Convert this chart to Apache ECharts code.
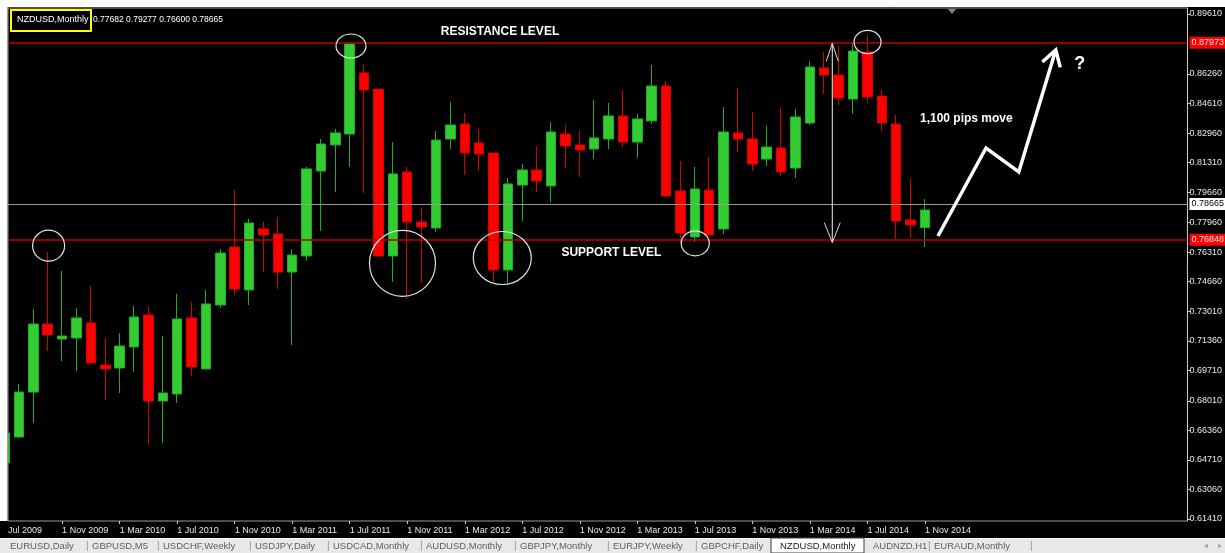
<!DOCTYPE html>
<html>
<head>
<meta charset="utf-8">
<script src="https://cdn.jsdelivr.net/npm/echarts@6/dist/echarts.min.js"></script>
<style>
  html, body { margin: 0; padding: 0; background: #000; }
  #main { width: 1225px; height: 553px; }
</style>
</head>
<body>
<div id="main"></div>
<script>
// NZDUSD monthly bars, Jul 2009 .. Nov 2014
var months = [
  'Jul 2009','Aug 2009','Sep 2009','Oct 2009','Nov 2009','Dec 2009',
  'Jan 2010','Feb 2010','Mar 2010','Apr 2010','May 2010','Jun 2010','Jul 2010','Aug 2010','Sep 2010','Oct 2010','Nov 2010','Dec 2010',
  'Jan 2011','Feb 2011','Mar 2011','Apr 2011','May 2011','Jun 2011','Jul 2011','Aug 2011','Sep 2011','Oct 2011','Nov 2011','Dec 2011',
  'Jan 2012','Feb 2012','Mar 2012','Apr 2012','May 2012','Jun 2012','Jul 2012','Aug 2012','Sep 2012','Oct 2012','Nov 2012','Dec 2012',
  'Jan 2013','Feb 2013','Mar 2013','Apr 2013','May 2013','Jun 2013','Jul 2013','Aug 2013','Sep 2013','Oct 2013','Nov 2013','Dec 2013',
  'Jan 2014','Feb 2014','Mar 2014','Apr 2014','May 2014','Jun 2014','Jul 2014','Aug 2014','Sep 2014','Oct 2014','Nov 2014'
];
var opens = [
  0.6454, 0.6599, 0.6850, 0.7230, 0.7146, 0.7152, 0.7236, 0.7001, 0.6984, 0.7102,
  0.7280, 0.6800, 0.6839, 0.7264, 0.6979, 0.7336, 0.7660, 0.7420, 0.7761, 0.7733,
  0.7520, 0.7610, 0.8084, 0.8230, 0.8291, 0.8632, 0.8542, 0.7610, 0.8079, 0.7800,
  0.7766, 0.8263, 0.8347, 0.8241, 0.8185, 0.7532, 0.8006, 0.8090, 0.8001, 0.8291,
  0.8230, 0.8207, 0.8263, 0.8392, 0.8246, 0.8364, 0.8559, 0.7973, 0.7716, 0.7978,
  0.7761, 0.8297, 0.8263, 0.8151, 0.8213, 0.8101, 0.8352, 0.8660, 0.8620, 0.8486,
  0.8749, 0.8503, 0.8347, 0.7811, 0.77682
];
var highs = [
  0.6649, 0.6895, 0.7314, 0.7632, 0.7526, 0.7319, 0.7442, 0.7152, 0.7180, 0.7331,
  0.7325, 0.7163, 0.7398, 0.7353, 0.7420, 0.7649, 0.7978, 0.7816, 0.7800, 0.7828,
  0.7649, 0.8107, 0.8263, 0.8319, 0.8799, 0.8682, 0.8542, 0.8246, 0.8107, 0.7883,
  0.8308, 0.8470, 0.8408, 0.8319, 0.8185, 0.8045, 0.8123, 0.8224, 0.8358, 0.8341,
  0.8308, 0.8481, 0.8464, 0.8537, 0.8403, 0.8676, 0.8587, 0.8140, 0.8107, 0.8163,
  0.8442, 0.8548, 0.8414, 0.8336, 0.8436, 0.8431, 0.8699, 0.8749, 0.8782, 0.8799,
  0.8838, 0.8537, 0.8397, 0.8040, 0.79277
];
var lows = [
  0.6437, 0.6593, 0.6677, 0.7079, 0.7023, 0.6968, 0.7007, 0.6806, 0.6845, 0.6962,
  0.6560, 0.6566, 0.6789, 0.6940, 0.6979, 0.7319, 0.7392, 0.7336, 0.7520, 0.7425,
  0.7113, 0.7582, 0.7749, 0.7967, 0.8107, 0.7962, 0.7604, 0.7465, 0.7370, 0.7459,
  0.7744, 0.8207, 0.8062, 0.8084, 0.7459, 0.7459, 0.7805, 0.7967, 0.7911, 0.8101,
  0.8051, 0.8151, 0.8207, 0.8218, 0.8157, 0.8347, 0.7939, 0.7682, 0.7688, 0.7727,
  0.7733, 0.8190, 0.8084, 0.8112, 0.8056, 0.8045, 0.8341, 0.8514, 0.8453, 0.8403,
  0.8464, 0.8308, 0.7705, 0.7710, 0.76600
];
var closes = [
  0.6621, 0.6850, 0.7230, 0.7169, 0.7163, 0.7264, 0.7012, 0.6979, 0.7107, 0.7269,
  0.6800, 0.6845, 0.7258, 0.6990, 0.7342, 0.7626, 0.7425, 0.7794, 0.7727, 0.7520,
  0.7615, 0.8096, 0.8235, 0.8297, 0.8794, 0.8537, 0.7610, 0.8068, 0.7800, 0.7772,
  0.8257, 0.8341, 0.8185, 0.8179, 0.7532, 0.8012, 0.8090, 0.8029, 0.8302, 0.8224,
  0.8202, 0.8269, 0.8392, 0.8246, 0.8375, 0.8559, 0.7945, 0.7738, 0.7984, 0.7727,
  0.8302, 0.8263, 0.8123, 0.8218, 0.8079, 0.8386, 0.8665, 0.8620, 0.8492, 0.8754,
  0.8498, 0.8352, 0.7805, 0.7783, 0.78665
];

var dateTicks = ['Jul 2009','1 Nov 2009','1 Mar 2010','1 Jul 2010','1 Nov 2010','1 Mar 2011','1 Jul 2011',
  '1 Nov 2011','1 Mar 2012','1 Jul 2012','1 Nov 2012','1 Mar 2013','1 Jul 2013','1 Nov 2013',
  '1 Mar 2014','1 Jul 2014','1 Nov 2014'];
var priceTicks = [0.8961, 0.8626, 0.8461, 0.8296, 0.8131, 0.7966, 0.7796, 0.7631, 0.7466,
  0.7301, 0.7136, 0.6971, 0.6801, 0.6636, 0.6471, 0.6306, 0.6141];

var resistance = 0.87973;
var support = 0.76848;
var lastPrice = 0.78665;
var header = 'NZDUSD,Monthly';
var ohlcText = '0.77682 0.79277 0.76600 0.78665';

var tabs = ['EURUSD,Daily','GBPUSD,M5','USDCHF,Weekly','USDJPY,Daily','USDCAD,Monthly','AUDUSD,Monthly',
  'GBPJPY,Monthly','EURJPY,Weekly','GBPCHF,Daily','NZDUSD,Monthly','AUDNZD,H1','EURAUD,Monthly'];
var activeTab = 'NZDUSD,Monthly';

// hand drawn annotations, in chart coordinates [bar index, price]
var circles = [
  [3.06, 0.76672, 16, 15.5], [24.09, 0.87823, 15, 12], [27.67, 0.75689, 33, 33],
  [34.61, 0.75985, 29, 26.5], [48.03, 0.76806, 14, 12.5], [60.01, 0.88046, 13.5, 11.7]
];
var moveBar = 57.56;
var zigzag = [[64.91, 0.77213], [68.25, 0.82127], [70.53, 0.80787], [73.10, 0.87600]];
var notes = [
  ['RESISTANCE LEVEL', 34.45, 0.88605, 'center', 12],
  ['SUPPORT LEVEL', 42.2, 0.76269, 'center', 12],
  ['1,100 pips move', 63.66, 0.83747, 'left', 12],
  ['?', 74.77, 0.86818, 'center', 18]
];

var xMin = 0.236, xMax = 82.26;
var tickIdx = dateTicks.map(function (t) { return months.indexOf(t.replace(/^1 /, '')); });
// first month sits half outside the window, its label is pinned to the left edge
var labelVals = tickIdx.map(function (v) { return Math.max(v, xMin); });
var candleData = months.map(function (m, i) {
  return [i, opens[i], closes[i], lows[i], highs[i]];
});

var chart = echarts.init(document.getElementById('main'));
var font = 'Liberation Sans, Arial, sans-serif';

function priceBox(v, bg, fg) {
  return {
    show: true, position: 'end', distance: 2,
    formatter: v.toFixed(5), color: fg, backgroundColor: bg,
    fontSize: 9, fontFamily: font, padding: [1, 2, 1, 2], lineHeight: 10
  };
}

chart.setOption({
  backgroundColor: '#000',
  animation: false,
  grid: { left: 8, right: 35, top: 8, bottom: 32, show: true, borderColor: '#9a9a9a', borderWidth: 1, backgroundColor: '#000' },
  xAxis: {
    type: 'value', min: xMin, max: xMax,
    axisLine: { show: false, onZero: false }, splitLine: { show: false },
    axisTick: { show: true, customValues: tickIdx.filter(function (v) { return v >= xMin; }), length: 3, lineStyle: { color: '#c8c8c8' } },
    axisLabel: {
      customValues: labelVals, align: 'left', margin: 5, color: '#e8e8e8', fontSize: 9, fontFamily: font,
      showMinLabel: true,
      formatter: function (v) {
        var k = labelVals.findIndex(function (u) { return Math.abs(u - v) < 0.01; });
        return k >= 0 ? dateTicks[k] : '';
      }
    }
  },
  yAxis: {
    type: 'value', position: 'right', min: 0.61299, max: 0.89945,
    axisLine: { show: true, onZero: false, lineStyle: { color: '#c8c8c8' } },
    splitLine: { show: false },
    axisTick: { show: true, customValues: priceTicks, length: 3, lineStyle: { color: '#c8c8c8' } },
    axisLabel: {
      customValues: priceTicks, margin: 2, color: '#e8e8e8', fontSize: 9, fontFamily: font,
      formatter: function (v) { return v.toFixed(5); }
    }
  },
  series: [{
    type: 'candlestick',
    data: candleData,
    encode: { x: 0, y: [1, 2, 3, 4] },
    barWidth: 10,
    clip: true,
    itemStyle: { color: '#33cc33', color0: '#ff0000', borderColor: '#1fae1f', borderColor0: '#d40000', borderWidth: 1 },
    markLine: {
      silent: true, symbol: ['none', 'none'], animation: false,
      data: [
        { yAxis: resistance, lineStyle: { color: '#c00000', width: 1.5, type: 'solid' }, label: priceBox(resistance, '#ff0000', '#ffe6e6') },
        { yAxis: support, lineStyle: { color: '#c00000', width: 1.5, type: 'solid' }, label: priceBox(support, '#ff0000', '#ffe6e6') },
        { yAxis: lastPrice, lineStyle: { color: '#9a9a9a', width: 1, type: 'solid' }, label: priceBox(lastPrice, '#ffffff', '#000000') }
      ]
    }
  }]
});

function px(p) { return chart.convertToPixel({ gridIndex: 0 }, p); }

var g = [];
// window chrome (kept above the series so the first bar is cut at the window edge)
g.push({ type: 'rect', z: 100, shape: { x: 0, y: 0, width: 1225, height: 7 }, style: { fill: '#fff' }, silent: true });
g.push({ type: 'rect', z: 100, shape: { x: 0, y: 0, width: 7, height: 521 }, style: { fill: '#fff' }, silent: true });
g.push({ type: 'line', z: 100, shape: { x1: 7.5, y1: 7, x2: 7.5, y2: 521 }, style: { stroke: '#9a9a9a', lineWidth: 1 }, silent: true });
g.push({ type: 'polygon', z: 100, shape: { points: [[948, 9], [956, 9], [952, 14]] }, style: { fill: '#808080' }, silent: true });
g.push({ type: 'text', z: 100, x: 17, y: 20, style: { text: header, fill: '#fff', font: '9px ' + font, verticalAlign: 'middle' } });
g.push({ type: 'text', z: 100, x: 93, y: 20, style: { text: ohlcText, fill: '#fff', font: '8.5px ' + font, verticalAlign: 'middle' } });
g.push({ type: 'rect', z: 100, shape: { x: 11, y: 10, width: 80, height: 21 }, style: { fill: null, stroke: '#ffff00', lineWidth: 2 } });

// tab bar
g.push({ type: 'rect', z: 100, shape: { x: 0, y: 538, width: 1225, height: 15 }, style: { fill: '#e8e8e8' }, silent: true });
g.push({ type: 'line', z: 100, shape: { x1: 0, y1: 538.5, x2: 1225, y2: 538.5 }, style: { stroke: '#f8f8f8', lineWidth: 1 } });
var tabX = [10, 92, 163, 255, 333, 426, 520, 613, 701, 780, 873, 934];
tabs.forEach(function (t, i) {
  if (t === activeTab) {
    g.push({ type: 'rect', z: 100, shape: { x: tabX[i] - 9, y: 538, width: 93, height: 15 }, style: { fill: '#fff', stroke: '#404040', lineWidth: 1 } });
  }
  g.push({ type: 'text', z: 101, x: tabX[i], y: 546, style: { text: t, fill: t === activeTab ? '#222' : '#606060', font: '9.5px ' + font, verticalAlign: 'middle' } });
  var sx = i < tabs.length - 1 ? (tabX[i + 1] - 6) : 1030;
  if (t !== activeTab && tabs[i + 1] !== activeTab) {
    g.push({ type: 'text', z: 101, x: sx, y: 546, style: { text: '|', fill: '#909090', font: '10px ' + font, verticalAlign: 'middle' } });
  }
});
g.push({ type: 'text', z: 101, x: 1204, y: 546, style: { text: '\u25C2', fill: '#a0a0a0', font: '8px ' + font, verticalAlign: 'middle' } });
g.push({ type: 'text', z: 101, x: 1218, y: 546, style: { text: '\u25B8', fill: '#a0a0a0', font: '8px ' + font, verticalAlign: 'middle' } });

// annotations
circles.forEach(function (c) {
  var p = px([c[0], c[1]]);
  g.push({ type: 'ellipse', z: 50, shape: { cx: p[0], cy: p[1], rx: c[2], ry: c[3] }, style: { fill: null, stroke: '#e4e4e4', lineWidth: 1.2 } });
});
var upEnd = px([moveBar, resistance]), downEnd = px([moveBar, support]);
g.push({ type: 'line', z: 50, shape: { x1: upEnd[0], y1: upEnd[1], x2: downEnd[0], y2: downEnd[1] }, style: { stroke: '#f0f0f0', lineWidth: 1 } });
g.push({ type: 'polyline', z: 50, shape: { points: [[upEnd[0] - 6, upEnd[1] + 18], [upEnd[0], upEnd[1]], [upEnd[0] + 6, upEnd[1] + 18]] }, style: { fill: null, stroke: '#d8d8d8', lineWidth: 1 } });
g.push({ type: 'polyline', z: 50, shape: { points: [[downEnd[0] - 8, downEnd[1] - 20], [downEnd[0], downEnd[1]], [downEnd[0] + 8, downEnd[1] - 20]] }, style: { fill: null, stroke: '#d8d8d8', lineWidth: 1 } });

var zz = zigzag.map(px);
g.push({ type: 'polyline', z: 50, shape: { points: zz }, style: { fill: null, stroke: '#fff', lineWidth: 3.5, lineJoin: 'miter' } });
var a = zz[zz.length - 1], b = zz[zz.length - 2];
var ang = Math.atan2(a[1] - b[1], a[0] - b[0]);
var hl = 18, hw = 0.55;
g.push({ type: 'polyline', z: 50, shape: { points: [
  [a[0] - hl * Math.cos(ang - hw), a[1] - hl * Math.sin(ang - hw)], a,
  [a[0] - hl * Math.cos(ang + hw), a[1] - hl * Math.sin(ang + hw)]
] }, style: { fill: null, stroke: '#fff', lineWidth: 3.5 } });

notes.forEach(function (n) {
  var p = px([n[1], n[2]]);
  g.push({ type: 'text', z: 50, x: p[0], y: p[1], style: { text: n[0], fill: '#fff', font: 'bold ' + n[4] + 'px ' + font, align: n[3], verticalAlign: 'middle' } });
});

chart.setOption({ graphic: g });
</script>
</body>
</html>
